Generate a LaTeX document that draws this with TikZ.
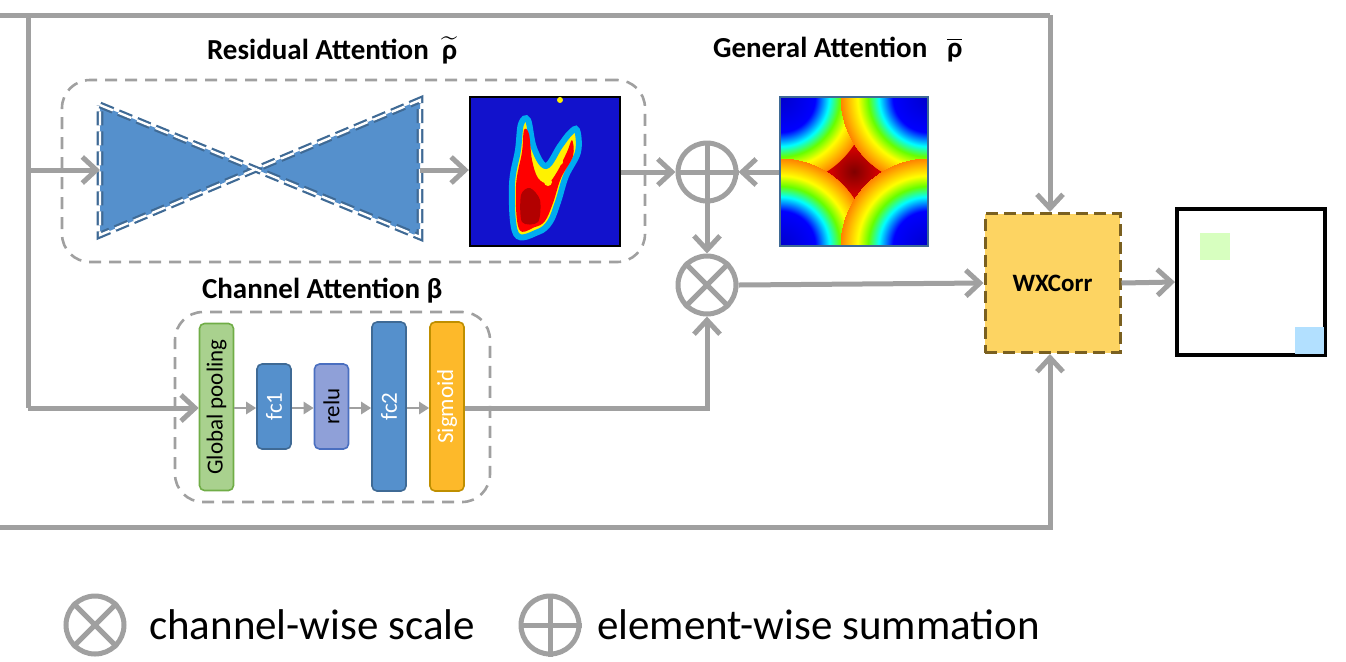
\documentclass[tikz,border=0pt]{standalone}
\usepackage{amsmath}
\usepackage{fontspec}
\setmainfont{Carlito}
\usetikzlibrary{arrows.meta,shapes.geometric}
\definecolor{ln}{HTML}{A0A0A0}
\definecolor{tblue}{HTML}{5590CC}
\definecolor{tborder}{HTML}{3F6A95}
\definecolor{hblue}{HTML}{1212CC}
\definecolor{gpf}{HTML}{A9D18E}
\definecolor{gpd}{HTML}{70AD47}
\definecolor{rlf}{HTML}{8FA0D8}
\definecolor{rld}{HTML}{4A6FC0}
\definecolor{sgf}{HTML}{FDB92A}
\definecolor{sgd}{HTML}{BF8F00}
\definecolor{wxf}{HTML}{FDD462}
\definecolor{wxd}{HTML}{7A6020}
\pgfdeclareradialshading{heat}{\pgfpoint{0bp}{0bp}}{color(0bp)=(red!50!black); color(5bp)=(red!80!black); color(11bp)=(red); color(18bp)=(orange); color(25bp)=(orange)}
\pgfdeclareradialshading{cornr}{\pgfpoint{0bp}{0bp}}{color(0bp)=(blue!80!black); color(10bp)=(blue); color(14bp)=(cyan); color(17bp)=(green!60!yellow); color(20bp)=(yellow); color(25bp)=(orange)}
\newcommand{\rhob}{\textbf{ρ}}
\begin{document}
\begin{tikzpicture}[x=0.5pt,y=-0.5pt,
  wire/.style={draw=ln,line width=2.5pt},
  arr/.style={wire,-{Straight Barb[length=7pt,width=13pt,line width=2.5pt]}},
  sarr/.style={draw=ln,line width=1.3pt,-{Triangle[length=5pt,width=6pt]}},
  dbox/.style={draw=ln,line width=1.3pt,dash pattern=on 6pt off 4pt,rounded corners=14pt},
  op/.style={circle,draw=ln,line width=2.5pt,minimum size=29pt,inner sep=0pt},
  blk/.style={rounded corners=2.5pt,line width=0.8pt,inner sep=0pt,minimum width=17pt},
  ttl/.style={font=\bfseries\fontsize{14.5}{17}\selectfont,anchor=west},
  rl/.style={rotate=90,font=\fontsize{11.5}{13}\selectfont}]
\useasboundingbox (0,0) rectangle (1346,661);
% containers
\node[dbox,minimum width=291.5pt,minimum height=91pt] (res) at (353.5,171) {};
\node[dbox,minimum width=157.5pt,minimum height=95pt] (cha) at (332.5,407) {};
% titles
\node[ttl] (t1) at (200,50) {Residual Attention \ $\widetilde{\text{\rhob}}$};
\node[ttl] (t2) at (706,50) {General Attention \ \ $\overline{\text{\rhob}}$};
\node[ttl] (t3) at (195,291) {Channel Attention \textbf{β}};
% bowtie
\fill[tblue] (100,105)--(420,237)--(420,100)--(100,235)--cycle;
\draw[tborder,line width=1.1pt,double=white,double distance=1.2pt,dash pattern=on 7pt off 3pt] (100,105)--(420,237)--(420,100)--(100,235)--cycle;
\coordinate (bwl) at (100,170);
\coordinate (bwr) at (420,170);
% heatmap 1
\node[draw=black,line width=1.2pt,fill=hblue,minimum width=75pt,minimum height=74.5pt,inner sep=0pt] (h1) at (545,171.5) {};
\begin{scope}
\clip (470,97) rectangle (620,246);
\path[draw=cyan,line width=3pt,fill=yellow] plot[smooth cycle,tension=0.6] coordinates {(516,234) (512,185) (518,150) (521,124) (528,120) (534,148) (546,166) (560,146) (570,133) (577,130) (578,152) (566,176) (558,202) (550,222) (538,232)};
\path[fill=red] plot[smooth cycle,tension=0.6] coordinates {(519,229) (516,186) (522,152) (524,130) (529,134) (532,160) (538,178) (548,183) (557,172) (567,152) (572,140) (573,156) (561,178) (553,203) (545,221) (535,227)};
\fill[red!70!black] plot[smooth cycle] coordinates {(522,222) (521,195) (530,188) (540,200) (538,222)};
\fill[yellow] (548,182) circle (4) (560,162) circle (3);
\fill[yellow] (560,100) circle (3);
\end{scope}
% heatmap 2
\node[draw=tborder,line width=0.8pt,minimum width=74pt,minimum height=74.5pt,inner sep=0pt] (h2) at (854,171.5) {};
\begin{scope}
\clip (780,97) rectangle (928,246);
\shade[shading=heat] (854,171.5) circle (110);
\foreach \cx/\cy in {780/97,928/97,780/246,928/246}
  \shade[shading=cornr] (\cx,\cy) circle (88);
\end{scope}
\draw[draw=tborder,line width=0.8pt] (780,97) rectangle (928,246);
% operators
\node[op] (plus) at (707,172) {};
\draw[ln,line width=2.5pt] (plus.north)--(plus.south) (plus.west)--(plus.east);
\node[op] (times) at (707,285) {};
\draw[ln,line width=2.5pt] (times.north west)--(times.south east) (times.north east)--(times.south west);
% WXCorr and output
\node[draw=wxd,fill=wxf,line width=1.5pt,dash pattern=on 6pt off 3pt,minimum width=67.5pt,minimum height=69.5pt,font=\bfseries\fontsize{12.5}{14}\selectfont] (wx) at (1052.5,283) {WXCorr};
\node[draw=black,line width=2pt,minimum width=74pt,minimum height=73pt,inner sep=0pt] (out) at (1251,282) {};
\fill[green!50!lime!25] (1200,233) rectangle (1230,260);
\fill[blue!40!cyan!30] (1295,327) rectangle (1324,354);
% channel blocks
\node[blk,draw=gpd,fill=gpf,minimum height=83.5pt] (gp) at (216.5,407) {};
\node[rl] at (gp) {Global pooling};
\node[blk,draw=tborder,fill=tblue,minimum height=42.5pt] (fc1) at (274,406.5) {};
\node[rl,text=white] at (fc1) {fc1};
\node[blk,draw=rld,fill=rlf,minimum height=42.5pt] (relu) at (331.5,406.5) {};
\node[rl] at (relu) {relu};
\node[blk,draw=tborder,fill=tblue,minimum height=84.5pt] (fc2) at (389,406.5) {};
\node[rl,text=white] at (fc2) {fc2};
\node[blk,draw=sgd,fill=sgf,minimum height=84.5pt] (sig) at (447,406.5) {};
\node[rl,text=white] at (sig) {Sigmoid};
\draw[sarr] (gp.east|-0,408)--(fc1.west|-0,408);
\draw[sarr] (fc1.east|-0,408)--(relu.west|-0,408);
\draw[sarr] (relu.east|-0,408)--(fc2.west|-0,408);
\draw[sarr] (fc2.east|-0,408)--(sig.west|-0,408);
% wires
\coordinate (tl) at (0,15);
\coordinate (tr) at (1050,15);
\coordinate (v1) at (28,15);
\coordinate (v2) at (28,408);
\coordinate (bl) at (0,527);
\coordinate (br) at (1050,527);
\coordinate (sc) at (707,408);
\coordinate (hj) at (28,170);
\draw[wire] (tl)--(tr);
\draw[arr] (tr)--(wx.north-|tr);
\draw[arr] (bl)--(br)--(wx.south-|br);
\draw[wire] (v1)--(v2);
\draw[arr] (v2)--(gp.west|-v2);
\draw[arr] (hj)--(bwl);
\draw[arr] (bwr)--(h1.west|-bwr);
\draw[arr] (h1.east|-plus)--(plus.west);
\draw[arr] (h2.west|-plus)--(plus.east);
\draw[arr] (plus.south)--(times.north);
\draw[arr] (sig.east|-sc)--(sc)--(times.south);
\draw[arr] (times.east)--(wx.west);
\draw[arr] (wx.east)--(out.west);
% legend
\node[op] (lt) at (95,625) {};
\draw[ln,line width=2.5pt] (lt.north west)--(lt.south east) (lt.north east)--(lt.south west);
\node[anchor=west,font=\fontsize{21.5}{24}\selectfont] (ltx) at (142,625) {channel-wise scale};
\node[op] (lp) at (550,625) {};
\draw[ln,line width=2.5pt] (lp.north)--(lp.south) (lp.west)--(lp.east);
\node[anchor=west,font=\fontsize{21.5}{24}\selectfont] (lpx) at (590,625) {element-wise summation};
\end{tikzpicture}
\end{document}
